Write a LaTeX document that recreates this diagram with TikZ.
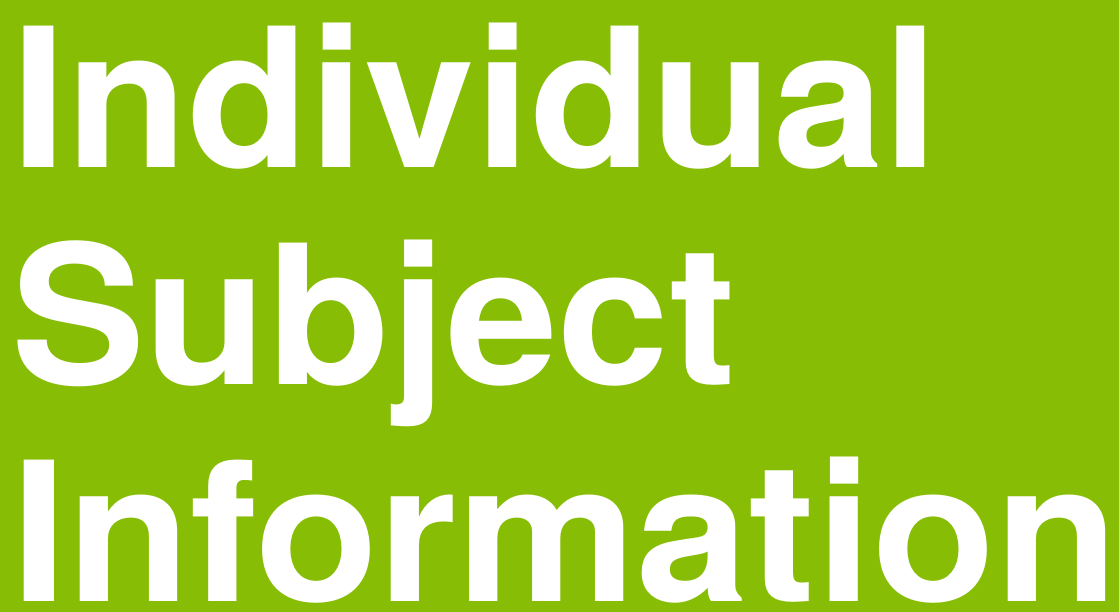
\documentclass[tikz,border=0pt]{standalone}
\usepackage{fontspec}
\setmainfont{TeX Gyre Heros}
\definecolor{bggreen}{RGB}{135,190,5}
\begin{document}
\begin{tikzpicture}[x=1pt,y=-1pt,
  bigword/.style={anchor=base west,inner sep=0pt,outer sep=0pt,text=white,font=\fontsize{194}{194}\selectfont\bfseries}]
\fill[bggreen] (0,0) rectangle (1119,612);
\useasboundingbox (0,0) rectangle (1119,612);
\node[bigword] (l1) at (11,168) {\scalebox{1.025}[1]{Individual}};
\node[bigword] (l2) at (11,384) {\scalebox{1.035}[1]{Subject}};
\node[bigword] (l3) at (11,601) {\scalebox{1.04}[1]{Information}};
\end{tikzpicture}
\end{document}
